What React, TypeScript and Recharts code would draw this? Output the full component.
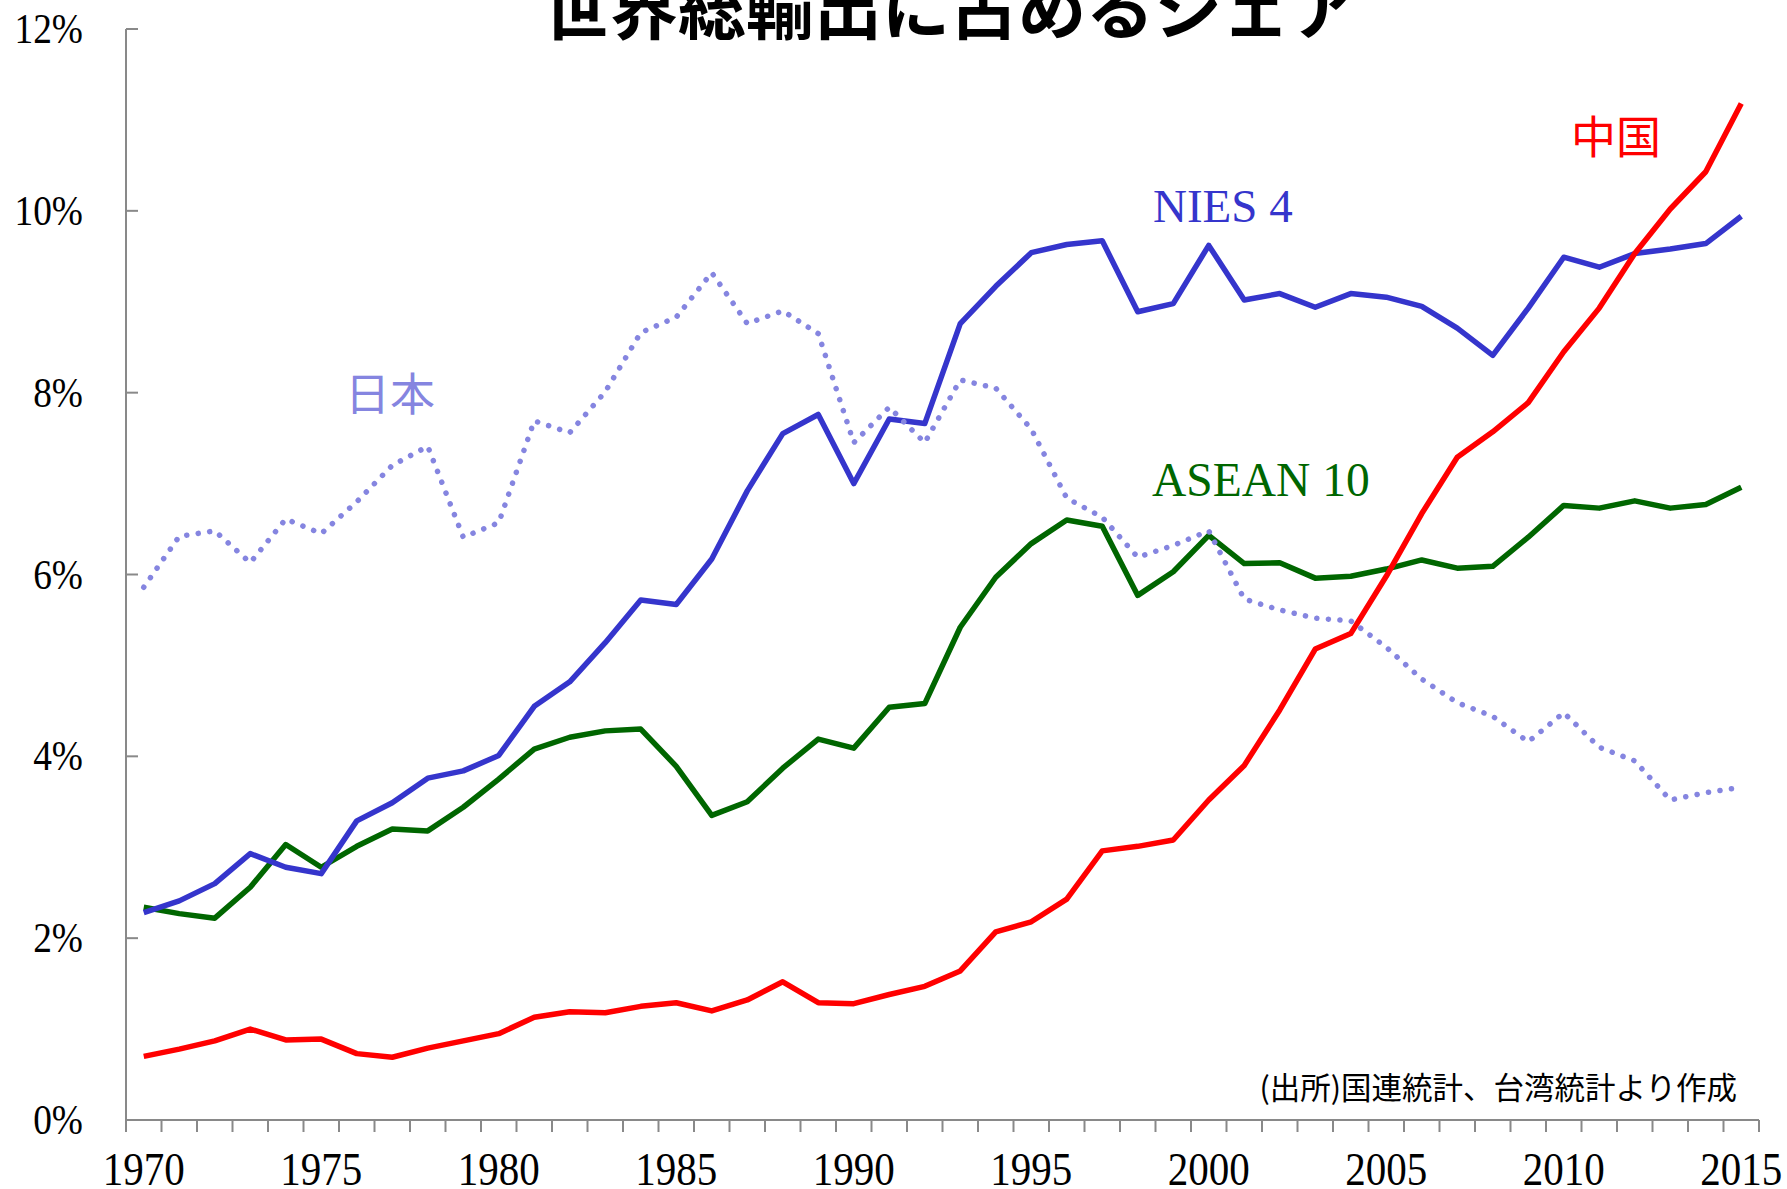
import React from 'react';
import { LineChart, Line, XAxis, YAxis } from 'recharts';

const years = [
  1970, 1971, 1972, 1973, 1974, 1975, 1976, 1977, 1978, 1979,
  1980, 1981, 1982, 1983, 1984, 1985, 1986, 1987, 1988, 1989,
  1990, 1991, 1992, 1993, 1994, 1995, 1996, 1997, 1998, 1999,
  2000, 2001, 2002, 2003, 2004, 2005, 2006, 2007, 2008, 2009,
  2010, 2011, 2012, 2013, 2014, 2015,
];

const china = [
  0.70, 0.78, 0.87, 1.00, 0.88, 0.89, 0.73, 0.69, 0.79, 0.87,
  0.95, 1.13, 1.19, 1.18, 1.25, 1.29, 1.20, 1.32, 1.52, 1.29,
  1.28, 1.38, 1.47, 1.64, 2.07, 2.18, 2.43, 2.96, 3.01, 3.08,
  3.52, 3.90, 4.51, 5.18, 5.35, 5.98, 6.67, 7.29, 7.57, 7.89,
  8.45, 8.93, 9.53, 10.02, 10.43, 11.18,
];

const nies4 = [
  2.28, 2.41, 2.60, 2.93, 2.78, 2.71, 3.29, 3.49, 3.76, 3.84,
  4.01, 4.55, 4.82, 5.25, 5.72, 5.67, 6.17, 6.92, 7.55, 7.76,
  7.00, 7.71, 7.66, 8.76, 9.17, 9.54, 9.63, 9.67, 8.89, 8.98,
  9.62, 9.02, 9.09, 8.94, 9.09, 9.05, 8.95, 8.71, 8.41, 8.93,
  9.49, 9.38, 9.53, 9.58, 9.64, 9.94,
];

const asean10 = [
  2.34, 2.27, 2.22, 2.56, 3.03, 2.78, 3.01, 3.20, 3.18, 3.44,
  3.75, 4.08, 4.21, 4.28, 4.30, 3.89, 3.35, 3.50, 3.87, 4.19,
  4.09, 4.54, 4.58, 5.42, 5.97, 6.34, 6.60, 6.53, 5.77, 6.03,
  6.43, 6.12, 6.13, 5.96, 5.98, 6.06, 6.16, 6.07, 6.09, 6.41,
  6.76, 6.73, 6.81, 6.73, 6.77, 6.96,
];

const japan = [
  5.86, 6.42, 6.48, 6.13, 6.61, 6.45, 6.80, 7.20, 7.41, 6.41,
  6.57, 7.69, 7.56, 8.01, 8.66, 8.83, 9.32, 8.76, 8.90, 8.65,
  7.45, 7.84, 7.45, 8.14, 8.05, 7.60, 6.84, 6.63, 6.19, 6.32,
  6.48, 5.73, 5.61, 5.52, 5.49, 5.20, 4.85, 4.59, 4.44, 4.16,
  4.48, 4.10, 3.95, 3.52, 3.60, 3.66,
];

const yTicks = [0, 2, 4, 6, 8, 10, 12];
const labelYears = [1970, 1975, 1980, 1985, 1990, 1995, 2000, 2005, 2010, 2015];
const boundaryTicks = [...years.map((y) => y - 0.5), years[years.length - 1] + 0.5];

const title = '世界総輸出に占めるシェア';
const source = '(出所)国連統計、台湾統計より作成';

const data = years.map((year, i) => ({
  year,
  china: china[i],
  nies4: nies4[i],
  asean10: asean10[i],
  japan: japan[i],
}));

const W = 1787;
const H = 1189;
const SERIF = '"Liberation Serif", "Times New Roman", serif';
const CJK = '"Noto Sans CJK JP", "Noto Sans CJK SC", sans-serif';
const AXIS = '#898989';

const xTickValues = [...boundaryTicks, ...labelYears].sort((a, b) => a - b);

const XTick = (props: any) => {
  const { x, y, payload } = props;
  const v = payload.value;
  if (Math.abs(v - Math.round(v)) > 0.01) {
    return <line x1={x} x2={x} y1={y} y2={y + 12} stroke={AXIS} strokeWidth={2} />;
  }
  const label = String(v);
  return (
    <text
      x={x}
      y={y + 65}
      textAnchor="middle"
      fontFamily={SERIF}
      fontSize={46}
      fill="#000"
      textLength={82}
      lengthAdjust="spacingAndGlyphs"
    >
      {label}
    </text>
  );
};

const YTick = (props: any) => {
  const { x, y, payload } = props;
  const label = `${payload.value}%`;
  const natural = (String(payload.value).length * 0.5 + 0.833) * 42;
  return (
    <g>
      <line x1={x} x2={x + 12} y1={y} y2={y} stroke={AXIS} strokeWidth={2} />
      <text
        x={x - 43}
        y={y + 14}
        textAnchor="end"
        fontFamily={SERIF}
        fontSize={42}
        fill="#000"
        textLength={natural * 0.89}
        lengthAdjust="spacingAndGlyphs"
      >
        {label}
      </text>
    </g>
  );
};

export default function App() {
  return (
    <div style={{ position: 'absolute', left: 0, top: 0, width: W, height: H, background: '#fff' }}>
      <LineChart
        width={W}
        height={H}
        data={data}
        margin={{ top: 29, right: 28, bottom: 0, left: 0 }}
      >
        <XAxis
          dataKey="year"
          type="number"
          domain={[1969.5, 2015.5]}
          ticks={xTickValues}
          interval={0}
          height={69}
          tickSize={0}
          tickMargin={0}
          tickLine={false}
          axisLine={{ stroke: AXIS, strokeWidth: 2 }}
          tick={<XTick />}
          allowDataOverflow
        />
        <YAxis
          type="number"
          domain={[0, 12]}
          ticks={yTicks}
          interval={0}
          width={126}
          tickSize={0}
          tickMargin={0}
          tickLine={false}
          axisLine={{ stroke: AXIS, strokeWidth: 2 }}
          tick={<YTick />}
        />
        <Line
          dataKey="asean10"
          type="linear"
          stroke="#006600"
          strokeWidth={5.5}
          strokeLinejoin="round"
          dot={false}
          activeDot={false}
          isAnimationActive={false}
        />
        <Line
          dataKey="nies4"
          type="linear"
          stroke="#3535CC"
          strokeWidth={5.5}
          strokeLinejoin="round"
          dot={false}
          activeDot={false}
          isAnimationActive={false}
        />
        <Line
          dataKey="china"
          type="linear"
          stroke="#FF0000"
          strokeWidth={5.5}
          strokeLinejoin="round"
          dot={false}
          activeDot={false}
          isAnimationActive={false}
        />
        <Line
          dataKey="japan"
          type="linear"
          stroke="#8585E0"
          strokeWidth={5.5}
          strokeLinecap="round"
          strokeDasharray="0.1 11.5"
          dot={false}
          activeDot={false}
          isAnimationActive={false}
        />
      </LineChart>
      <svg
        width={W}
        height={H}
        style={{ position: 'absolute', left: 0, top: 0, pointerEvents: 'none' }}
      >
        <text x={950} y={34} textAnchor="middle" fontFamily={CJK} fontWeight={700} fontSize={68} fill="#000">
          {title}
        </text>
        <text x={1571} y={154} fontFamily={CJK} fontSize={45} fill="#FF0000">中国</text>
        <text x={1153} y={222} fontFamily={SERIF} fontSize={47} fill="#3535CC">NIES 4</text>
        <text x={345} y={411} fontFamily={CJK} fontSize={45} fill="#8585E0">日本</text>
        <text x={1152} y={496} fontFamily={SERIF} fontSize={47.5} fill="#006600">ASEAN 10</text>
        <text x={1737} y={1099} textAnchor="end" fontFamily={CJK} fontSize={30.5} fill="#000">
          {source}
        </text>
      </svg>
    </div>
  );
}
